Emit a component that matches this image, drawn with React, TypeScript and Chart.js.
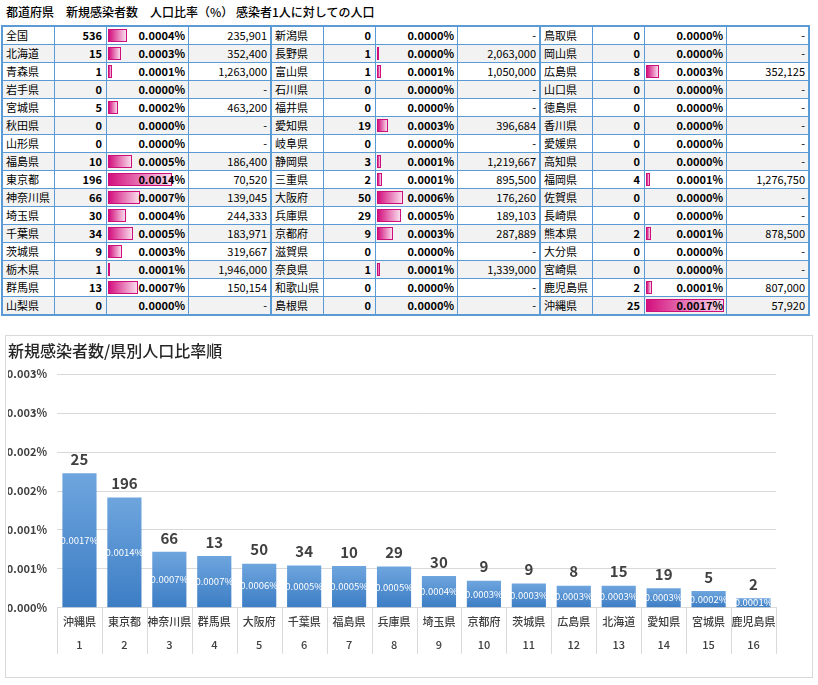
import React, { useEffect, useRef } from 'react';
import { Chart, registerables } from 'chart.js';

Chart.register(...registerables);

const FONT = '"Noto Sans CJK JP", "Noto Sans", sans-serif';
const BLUE = '#5b9bd5';

// 表：3ブロック（都道府県 / 新規感染者数 / 感染者1人に対しての人口、0 は「-」）
const prefA = ['全国', '北海道', '青森県', '岩手県', '宮城県', '秋田県', '山形県', '福島県', '東京都', '神奈川県', '埼玉県', '千葉県', '茨城県', '栃木県', '群馬県', '山梨県'];
const countA = [536, 15, 1, 0, 5, 0, 0, 10, 196, 66, 30, 34, 9, 1, 13, 0];
const perA = [235901, 352400, 1263000, 0, 463200, 0, 0, 186400, 70520, 139045, 244333, 183971, 319667, 1946000, 150154, 0];

const prefB = ['新潟県', '長野県', '富山県', '石川県', '福井県', '愛知県', '岐阜県', '静岡県', '三重県', '大阪府', '兵庫県', '京都府', '滋賀県', '奈良県', '和歌山県', '島根県'];
const countB = [0, 1, 1, 0, 0, 19, 0, 3, 2, 50, 29, 9, 0, 1, 0, 0];
const perB = [0, 2063000, 1050000, 0, 0, 396684, 0, 1219667, 895500, 176260, 189103, 287889, 0, 1339000, 0, 0];

const prefC = ['鳥取県', '岡山県', '広島県', '山口県', '徳島県', '香川県', '愛媛県', '高知県', '福岡県', '佐賀県', '長崎県', '熊本県', '大分県', '宮崎県', '鹿児島県', '沖縄県'];
const countC = [0, 0, 8, 0, 0, 0, 0, 0, 4, 0, 0, 2, 0, 0, 2, 25];
const perC = [0, 0, 352125, 0, 0, 0, 0, 0, 1276750, 0, 0, 878500, 0, 0, 807000, 57920];

// グラフ：人口比率順
const rankNames = ['沖縄県', '東京都', '神奈川県', '群馬県', '大阪府', '千葉県', '福島県', '兵庫県', '埼玉県', '京都府', '茨城県', '広島県', '北海道', '愛知県', '宮城県', '鹿児島県'];
const rankNumbers = ['1', '2', '3', '4', '5', '6', '7', '8', '9', '10', '11', '12', '13', '14', '15', '16'];
const rankCounts = [25, 196, 66, 13, 50, 34, 10, 29, 30, 9, 9, 8, 15, 19, 5, 2];
const rankRatios = [0.001727, 0.001418, 0.000719, 0.000666, 0.000567, 0.000544, 0.000536, 0.000529, 0.000409, 0.000347, 0.000313, 0.000284, 0.000284, 0.000252, 0.000216, 0.000124];

const ratioOf = (per: number) => (per ? 100 / per : 0);
const maxRatio = Math.max(...[...perA, ...perB, ...perC].map(ratioOf));

const cell: React.CSSProperties = {
  boxSizing: 'border-box',
  borderRight: `1px solid ${BLUE}`,
  lineHeight: '17px',
  height: 17,
  fontSize: 11,
  whiteSpace: 'nowrap',
  overflow: 'hidden',
};

const Block: React.FC<{ names: string[]; counts: number[]; pers: number[]; left: number }> = ({ names, counts, pers, left }) => (
  <div style={{ position: 'absolute', left, top: 25, width: 271, boxSizing: 'border-box', border: `2px solid ${BLUE}`, background: '#fff' }}>
    {names.map((n, i) => {
      const ratio = ratioOf(pers[i]);
      return (
        <div key={n} style={{ display: 'flex', height: 17, borderTop: i ? `1px solid ${BLUE}` : 'none', background: i % 2 ? '#f2f2f2' : '#fff' }}>
          <div style={{ ...cell, width: 52, paddingLeft: 3 }}>{n}</div>
          <div style={{ ...cell, width: 52, textAlign: 'right', paddingRight: 4, fontWeight: 'bold' }}>{counts[i]}</div>
          <div style={{ ...cell, width: 82, position: 'relative', textAlign: 'right', paddingRight: 3, fontWeight: 'bold' }}>
            {ratio > 0 && (
              <div
                style={{
                  position: 'absolute',
                  left: 1,
                  top: 2,
                  height: 13,
                  width: Math.max(2, (ratio / maxRatio) * 78),
                  boxSizing: 'border-box',
                  border: '1px solid #cc0f7a',
                  background: 'linear-gradient(to right, #d4107e, #f9dcec)',
                }}
              />
            )}
            <span style={{ position: 'relative' }}>{ratio.toFixed(4)}%</span>
          </div>
          <div style={{ ...cell, width: 81, borderRight: 'none', textAlign: 'right', paddingRight: 3 }}>
            {pers[i] ? pers[i].toLocaleString('en-US') : '-'}
          </div>
        </div>
      );
    })}
  </div>
);

// 棒の上の件数と棒の中の比率、カテゴリ区切り線
const barLabels = {
  id: 'barLabels',
  afterDatasetsDraw(chart: Chart) {
    const { ctx } = chart;
    const meta = chart.getDatasetMeta(0);
    meta.data.forEach((bar: any, i: number) => {
      const { x, y, base } = bar.getProps(['x', 'y', 'base'], true);
      ctx.save();
      ctx.textAlign = 'center';
      ctx.textBaseline = 'middle';
      ctx.font = `bold 15px ${FONT}`;
      ctx.fillStyle = '#404040';
      ctx.fillText(String(rankCounts[i]), x, y - 14);
      ctx.font = `9.5px ${FONT}`;
      ctx.fillStyle = '#ffffff';
      ctx.fillText(rankRatios[i].toFixed(4) + '%', x, (y + base) / 2);
      ctx.restore();
    });
  },
  afterDraw(chart: Chart) {
    const { ctx, chartArea } = chart;
    const xs: any = chart.scales.x;
    const half = (xs.getPixelForValue(1) - xs.getPixelForValue(0)) / 2;
    ctx.save();
    ctx.strokeStyle = '#d9d9d9';
    ctx.lineWidth = 1;
    ctx.beginPath();
    for (let i = 0; i <= rankNames.length; i++) {
      const px = Math.round(xs.getPixelForValue(i) - half) + 0.5;
      ctx.moveTo(px, chartArea.bottom);
      ctx.lineTo(px, chartArea.bottom + 46);
    }
    ctx.stroke();
    ctx.restore();
  },
};

const RatioChart: React.FC = () => {
  const canvasRef = useRef<HTMLCanvasElement>(null);

  useEffect(() => {
    if (!canvasRef.current) return;
    const chart = new Chart(canvasRef.current, {
      type: 'bar',
      data: {
        labels: rankNames.map((n, i) => [n, rankNumbers[i]]),
        datasets: [
          {
            data: rankRatios,
            backgroundColor: (c: any) => {
              const { chartArea, scales } = c.chart;
              if (!chartArea || c.type !== 'data') return '#5b9bd5';
              const top = scales.y.getPixelForValue(c.raw);
              const bottom = scales.y.getPixelForValue(0);
              const g = c.chart.ctx.createLinearGradient(0, top, 0, bottom);
              g.addColorStop(0, '#6ea5de');
              g.addColorStop(1, '#3c7dc4');
              return g;
            },
            borderWidth: 0,
            barPercentage: 0.76,
            categoryPercentage: 1,
          },
        ],
      },
      options: {
        responsive: true,
        maintainAspectRatio: false,
        animation: false,
        layout: { padding: { left: 2, right: 36, top: 0, bottom: 26 } },
        plugins: {
          legend: { display: false },
          tooltip: { enabled: false },
          title: {
            display: true,
            text: '新規感染者数/県別人口比率順',
            align: 'start',
            color: '#262626',
            font: { family: FONT, size: 16, weight: '500' },
            padding: { top: 5, bottom: 14 },
          },
        },
        scales: {
          x: {
            grid: { display: false },
            border: { display: true, color: '#d9d9d9' },
            ticks: {
              autoSkip: false,
              maxRotation: 0,
              minRotation: 0,
              padding: -5.5,
              color: '#404040',
              font: { family: FONT, size: 11, weight: '500', lineHeight: 2.1 },
            },
          },
          y: {
            min: 0,
            max: 0.003,
            afterFit: (s: any) => {
              s.width = 49;
            },
            ticks: {
              stepSize: 0.0005,
              padding: 10,
              color: '#404040',
              font: { family: FONT, size: 11, weight: 'bold' },
              callback: (v: any) => (Math.round(Number(v) * 1000 + 1e-6) / 1000).toFixed(3) + '%',
            },
            grid: { color: '#d9d9d9', drawTicks: false },
            border: { display: false },
          },
        },
      },
      plugins: [barLabels],
    });
    return () => chart.destroy();
  }, []);

  return (
    <div style={{ position: 'absolute', left: 5, top: 335, width: 808, height: 343, boxSizing: 'border-box', border: '1px solid #d9d9d9', background: '#fff' }}>
      <div style={{ position: 'relative', width: 806, height: 341 }}>
        <canvas ref={canvasRef} />
      </div>
    </div>
  );
};

export default function App() {
  const head: React.CSSProperties = { position: 'absolute', top: 4, fontSize: 12, lineHeight: '16px', whiteSpace: 'nowrap', fontWeight: 500 };
  return (
    <div style={{ position: 'absolute', left: 0, top: 0, width: 818, height: 685, background: '#fff', fontFamily: FONT, color: '#000' }}>
      <span style={{ ...head, left: 6 }}>都道府県</span>
      <span style={{ ...head, left: 66 }}>新規感染者数</span>
      <span style={{ ...head, left: 150 }}>人口比率（%）</span>
      <span style={{ ...head, left: 236 }}>感染者1人に対しての人口</span>
      <Block names={prefA} counts={countA} pers={perA} left={1} />
      <Block names={prefB} counts={countB} pers={perB} left={270} />
      <Block names={prefC} counts={countC} pers={perC} left={539} />
      <RatioChart />
    </div>
  );
}
